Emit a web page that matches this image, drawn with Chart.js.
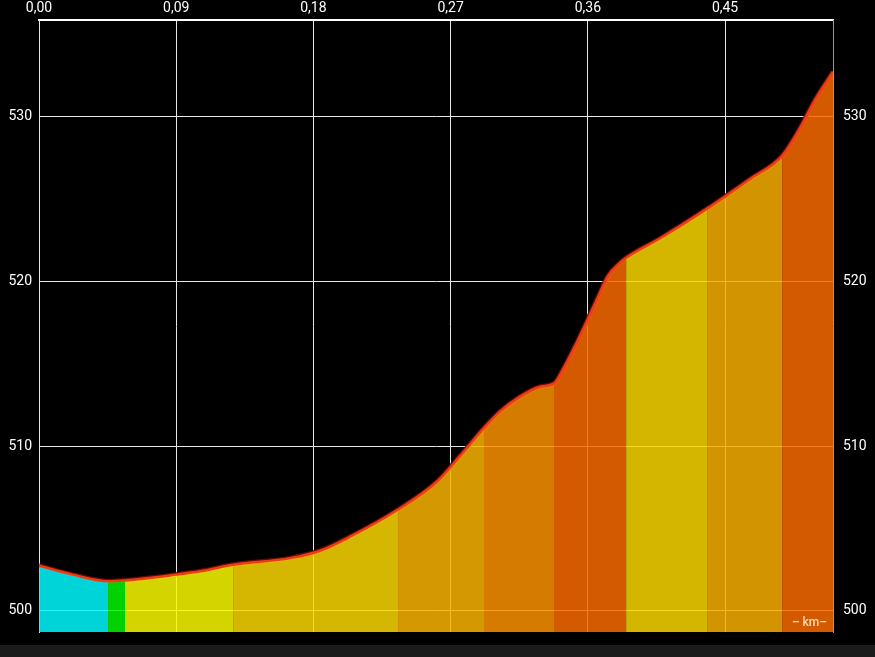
<!DOCTYPE html>
<html lang="en">
<head>
<meta charset="UTF-8">
<title>Elevation profile</title>
<script src="https://cdn.jsdelivr.net/npm/chart.js"></script>
<style>
    html, body { margin: 0; padding: 0; background: #000; }
    #wrap { position: relative; width: 875px; height: 657px; }
    #strip { position: absolute; left: 0; right: 0; bottom: 0; height: 12px; background: #1b1b1b; }
</style>
</head>
<body>
<div id="wrap">
    <canvas id="profile" width="875" height="657" style="width:875px;height:657px"></canvas>
    <div id="strip"></div>
</div>

<script>
    // distance (km) and elevation (m) along the track
    const distKm = [0, 0.022, 0.0453, 0.0564, 0.0899, 0.1056, 0.1273, 0.1647, 0.1843, 0.204,
        0.2355, 0.2611, 0.2762, 0.2919, 0.3024, 0.3155, 0.3287, 0.3378, 0.3451, 0.3516,
        0.3595, 0.3667, 0.3733, 0.3811, 0.3851, 0.4074, 0.4382, 0.4664, 0.4874, 0.4992,
        0.509, 0.5208];
    const elevation = [502.74, 502.2, 501.8, 501.85, 502.2, 502.4, 502.8, 503.2, 503.65, 504.5,
        506.15, 507.85, 509.4, 511.1, 512.1, 513.0, 513.6, 513.8, 514.9, 516.07,
        517.6, 519.05, 520.33, 521.12, 521.42, 522.6, 524.4, 526.2, 527.6, 529.3,
        531.0, 532.7];

    const xTicks = [0, 0.09, 0.18, 0.27, 0.36, 0.45];
    const yTicks = [500, 510, 520, 530];

    // where the gradient class changes, and the colour of each stretch
    const gradeBreaks = [0.0453, 0.0564, 0.1273, 0.2355, 0.2919, 0.3378, 0.3851, 0.4382, 0.4874];
    const gradeColors = [
        'rgba(0,249,255,0.85)', 'rgba(0,247,0,0.85)', 'rgba(249,249,0,0.85)',
        'rgba(250,214,0,0.85)', 'rgba(249,179,0,0.85)', 'rgba(250,144,0,0.85)',
        'rgba(249,106,0,0.85)', 'rgba(249,214,0,0.85)', 'rgba(247,174,0,0.85)',
        'rgba(249,106,0,0.85)'
    ];

    function gradeIndex(x) {
        return gradeBreaks.filter(b => b <= x + 1e-6).length;
    }

    const points = distKm.map((d, i) => ({ x: d, y: elevation[i] }));
    const tickFont = { family: 'Roboto', size: 14 };

    const kmLabel = {
        id: 'kmLabel',
        afterDraw(chart) {
            const { ctx, chartArea } = chart;
            ctx.save();
            ctx.font = '500 12px Roboto';
            ctx.fillStyle = 'rgba(255,240,220,0.85)';
            ctx.textAlign = 'right';
            ctx.textBaseline = 'middle';
            ctx.fillText('– km–', chartArea.right - 6, chartArea.bottom - 9);
            ctx.restore();
        }
    };

    new Chart(document.getElementById('profile'), {
        type: 'line',
        data: {
            datasets: [{
                data: points,
                borderColor: '#ec3c16',
                borderWidth: 2.5,
                pointRadius: 0,
                cubicInterpolationMode: 'monotone',
                fill: 'start',
                backgroundColor: gradeColors[0],
                segment: {
                    backgroundColor: c => gradeColors[gradeIndex(c.p0.parsed.x)]
                }
            }, {
                // dark halo under the red edge
                data: points,
                borderColor: 'rgba(110,10,0,0.9)',
                borderWidth: 5,
                pointRadius: 0,
                cubicInterpolationMode: 'monotone',
                fill: false
            }]
        },
        options: {
            responsive: false,
            animation: false,
            layout: { padding: { left: 0, right: 0, top: 0, bottom: 25 } },
            plugins: { legend: { display: false }, tooltip: { enabled: false } },
            scales: {
                x: {
                    type: 'linear',
                    position: 'top',
                    min: 0,
                    max: 0.5208,
                    afterBuildTicks: s => { s.ticks = xTicks.map(v => ({ value: v })); },
                    afterFit: s => { s.height = 20; },
                    grid: { color: '#e6e6e6', lineWidth: 1, drawTicks: false },
                    border: { color: '#ffffff', width: 2 },
                    ticks: {
                        color: '#ffffff',
                        font: tickFont,
                        padding: 3,
                        maxRotation: 0,
                        callback: v => v.toFixed(2).replace('.', ',')
                    }
                },
                y: {
                    position: 'left',
                    min: 498.72,
                    max: 535.84,
                    afterBuildTicks: s => { s.ticks = yTicks.map(v => ({ value: v })); },
                    afterFit: s => { s.width = 39; },
                    grid: { color: '#e6e6e6', lineWidth: 1, drawTicks: false },
                    border: { color: '#e6e6e6', width: 1 },
                    ticks: { color: '#ffffff', font: tickFont, padding: 7 }
                },
                y2: {
                    position: 'right',
                    min: 498.72,
                    max: 535.84,
                    afterBuildTicks: s => { s.ticks = yTicks.map(v => ({ value: v })); },
                    afterFit: s => { s.width = 42; },
                    grid: { display: false, drawTicks: false },
                    border: { color: '#9a9a9a', width: 1 },
                    ticks: { color: '#ffffff', font: tickFont, padding: 10 }
                }
            }
        },
        plugins: [kmLabel]
    });
</script>
</body>
</html>
